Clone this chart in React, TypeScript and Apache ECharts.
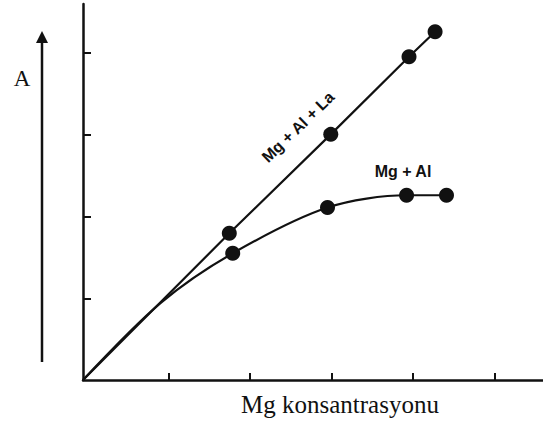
import React, { useEffect, useRef } from "react";
import * as echarts from "echarts";

// Mg + Al + La (straight line, markers except origin)
const laX = [0, 1.795, 3.04, 4.0, 4.32];
const laY = [0, 1.795, 3.005, 3.955, 4.26];
const laMarked = [false, true, true, true, true];

// Mg + Al (curve, follows the other line near origin, then bends)
const alX = [0, 0.95, 1.837, 3.0, 3.97, 4.46];
const alY = [0, 0.94, 1.55, 2.11, 2.26, 2.26];
const alMarked = [false, false, true, true, true, true];

const xTicks = [1.047, 2.047, 3.047, 4.047, 5.047];
const yTicks = [1, 2, 3, 4];

const xLabel = "Mg konsantrasyonu";
const yLabel = "A";
const laLabel = "Mg + Al + La";
const alLabel = "Mg + Al";

const INK = "#111111";

function toData(xs: number[], ys: number[], marked: boolean[]) {
  return xs.map((x, i) =>
    marked[i] ? { value: [x, ys[i]] } : { value: [x, ys[i]], symbol: "none" }
  );
}

export default function App() {
  const ref = useRef<HTMLDivElement>(null);
  useEffect(() => {
    document.body.style.margin = "0";
    if (!ref.current) return;
    const chart = echarts.init(ref.current, undefined, { renderer: "svg" });
    chart.setOption({
      animation: false,
      backgroundColor: "#ffffff",
      grid: { left: 83, top: 4, right: 0, bottom: 45, containLabel: false },
      xAxis: {
        type: "value",
        min: 0,
        max: 5.644,
        axisLine: { show: true, lineStyle: { color: INK, width: 2.5 } },
        axisTick: {
          show: true,
          inside: true,
          length: 7,
          customValues: xTicks,
          lineStyle: { color: INK, width: 2 },
        },
        axisLabel: { show: false },
        splitLine: { show: false },
      },
      yAxis: {
        type: "value",
        min: 0,
        max: 4.6,
        axisLine: { show: true, lineStyle: { color: INK, width: 2.5 } },
        axisTick: {
          show: true,
          inside: true,
          length: 8,
          customValues: yTicks,
          lineStyle: { color: INK, width: 2 },
        },
        axisLabel: { show: false },
        splitLine: { show: false },
      },
      series: [
        {
          name: laLabel,
          type: "line",
          data: toData(laX, laY, laMarked),
          symbol: "circle",
          symbolSize: 15,
          showAllSymbol: true,
          lineStyle: { color: INK, width: 2.2 },
          itemStyle: { color: INK },
        },
        {
          name: alLabel,
          type: "line",
          smooth: 0.3,
          data: toData(alX, alY, alMarked),
          symbol: "circle",
          symbolSize: 15,
          showAllSymbol: true,
          lineStyle: { color: INK, width: 2.2 },
          itemStyle: { color: INK },
        },
      ],
      graphic: [
        {
          type: "line",
          shape: { x1: 42, y1: 362, x2: 42, y2: 40 },
          style: { stroke: INK, lineWidth: 2.5 },
        },
        {
          type: "polygon",
          shape: { points: [[42, 31], [36, 43], [48, 43]] },
          style: { fill: INK },
        },
        {
          type: "text",
          x: 22,
          y: 78,
          style: {
            text: yLabel,
            font: '23px "Liberation Serif", "Times New Roman", serif',
            fill: INK,
            align: "center",
            verticalAlign: "middle",
          },
        },
        {
          type: "text",
          x: 340,
          y: 404,
          style: {
            text: xLabel,
            font: '25px "Liberation Serif", "Times New Roman", serif',
            fill: INK,
            align: "center",
            verticalAlign: "middle",
          },
        },
        {
          type: "text",
          x: 298,
          y: 127,
          rotation: (44 * Math.PI) / 180,
          style: {
            text: laLabel,
            font: 'bold 16px "Liberation Sans", Arial, sans-serif',
            fill: INK,
            align: "center",
            verticalAlign: "middle",
          },
        },
        {
          type: "text",
          x: 403,
          y: 171,
          style: {
            text: alLabel,
            font: 'bold 16px "Liberation Sans", Arial, sans-serif',
            fill: INK,
            align: "center",
            verticalAlign: "middle",
          },
        },
      ],
    });
    return () => chart.dispose();
  }, []);
  return <div ref={ref} style={{ width: 543, height: 425 }} />;
}
